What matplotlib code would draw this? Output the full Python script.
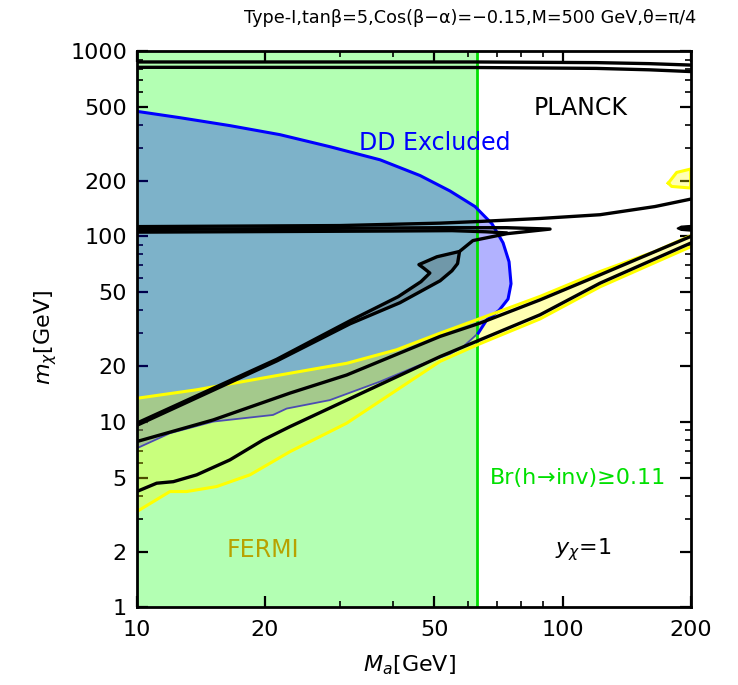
import numpy as np
import matplotlib
matplotlib.use("Agg")
import matplotlib.pyplot as plt
from matplotlib.offsetbox import TextArea, HPacker, AnnotationBbox

plt.rcParams['font.family'] = ['DejaVu Sans']
plt.rcParams['mathtext.fontset'] = 'custom'
plt.rcParams['mathtext.rm'] = 'DejaVu Sans'
plt.rcParams['mathtext.it'] = 'DejaVu Sans:italic'

# --- data (M_a [GeV], m_chi [GeV]) ---
higgs_cut = 63.0

# direct detection excluded region
dd_upper_x = [10, 12.64, 16.56, 21.7, 28.4, 37.3, 46.3, 54.4, 62.3, 68.3, 72.5, 74.9, 75.7,
              74.5, 71.0, 66.4, 63.4]
dd_upper_y = [473, 437, 396, 354, 305, 259, 213, 176, 145, 117, 92.5, 73, 55.6,
              46, 40, 35.5, 30.1]
dd_lower_x = [63.4, 58.5, 54.5, 46.3, 37.3, 28.4, 22.5, 20.9, 15.13, 11.97, 10]
dd_lower_y = [30.1, 25.5, 23.3, 20.3, 16.5, 13.1, 11.8, 10.9, 10.04, 8.69, 7.2]

# FERMI band
fermi_up_x = [10, 13.83, 22.91, 31.13, 40.8, 51.58, 63.43, 88.55, 122.5, 164.9, 200]
fermi_up_y = [13.4, 14.9, 18.3, 20.7, 24.5, 30.1, 35.8, 47.5, 64.7, 83.0, 101]
fermi_lo_x = [10, 11.97, 13.1, 15.41, 18.45, 22.91, 31.13, 51.58, 64.02, 88.55, 122.5, 200]
fermi_lo_y = [3.28, 4.21, 4.21, 4.48, 5.18, 6.91, 9.84, 21.2, 26.4, 35.9, 53.5, 88.0]
fermi_patch_x = [177.2, 185.4, 200, 200, 180.4]
fermi_patch_y = [194, 221.5, 231, 182.5, 186.1]

# PLANCK relic density contours
planck_top1_x = [10, 63, 120, 160, 200]
planck_top1_y = [873, 873, 866, 855, 840]
planck_top2_x = [10, 63, 120, 160, 200]
planck_top2_y = [817, 815, 806, 792, 775]

band_top_x = [10, 30, 51.6, 64, 88.5, 122.5, 164.9, 200]
band_top_y = [113, 114.5, 118, 120.5, 125, 131, 145, 159]
band_mid_x = [10, 40, 55, 66, 74]
band_mid_y = [105.5, 107, 107.5, 106, 104.5]

hook_a_x = [10, 21.32, 31.7, 41.1, 46.5, 48.8, 47.2, 46.0, 50.7, 57.3, 61.6, 74.0, 93.5,
            74.0, 51.6, 10]
hook_a_y = [9.84, 21.75, 35.1, 47.3, 57.0, 63.5, 67.5, 70.5, 77.7, 83.0, 95.0, 103.5, 109.6,
            111.5, 111.5, 109.0]
hook_b_x = [10, 21.32, 31.7, 41.5, 51.6, 55.0, 56.7, 57.3]
hook_b_y = [9.57, 21.3, 33.8, 43.9, 57.7, 65.3, 71.4, 83.0]

line1_x = [10, 15.13, 22.91, 31.13, 51.58, 64.02, 88.55, 122.5, 200]
line1_y = [7.83, 10.25, 14.3, 17.9, 28.9, 34.1, 45.5, 62.1, 100]
line2_x = [10, 11.14, 12.19, 13.83, 16.56, 19.83, 22.91, 31.13, 51.58, 64.02, 88.55, 122.5, 200]
line2_y = [4.21, 4.67, 4.76, 5.18, 6.24, 8.0, 9.43, 13.1, 22.5, 27.7, 37.8, 56.0, 92.1]

blob_x = [185.8, 190, 200, 200, 190]
blob_y = [110.5, 113.5, 114.5, 107, 108]

fig = plt.figure(figsize=(7.38, 6.85), dpi=100)
ax = fig.add_axes([0.1852, 0.1134, 0.7507, 0.8121])
ax.set_xscale('log')
ax.set_yscale('log')
ax.set_xlim(10, 200)
ax.set_ylim(1, 1000)

# Br(h->inv) region
ax.axvspan(10, higgs_cut, color='#b3ffb3', lw=0, zorder=1)

# DD region
dd_x = dd_upper_x + dd_lower_x[1:]
dd_y = dd_upper_y + dd_lower_y[1:]
ax.fill(dd_x, dd_y, color=(0, 0, 1), alpha=0.3, lw=0, zorder=2)

# FERMI region
ax.fill(fermi_up_x + fermi_lo_x[::-1], fermi_up_y + fermi_lo_y[::-1],
        color=(1, 1, 0), alpha=0.3, lw=0, zorder=3)
ax.fill(fermi_patch_x, fermi_patch_y, color=(1, 1, 0), alpha=0.3, lw=0, zorder=3)

# hook region of planck
ax.fill(hook_a_x[:10] + hook_b_x[::-1], hook_a_y[:10] + hook_b_y[::-1],
        color='0.3', alpha=0.25, lw=0, zorder=3)

ax.axvline(higgs_cut, color='#00e000', lw=2, zorder=4)
ax.plot(dd_upper_x, dd_upper_y, color='#0000ff', lw=2.2, zorder=4)
ax.plot(dd_lower_x, dd_lower_y, color='#0000ff', lw=1.3, zorder=2.5)

ax.plot(fermi_up_x, fermi_up_y, color='#ffff00', lw=2.2, zorder=5)
ax.plot(fermi_lo_x, fermi_lo_y, color='#ffff00', lw=2.2, zorder=5)
ax.plot(fermi_patch_x + fermi_patch_x[:1], fermi_patch_y + fermi_patch_y[:1],
        color='#ffff00', lw=2.2, zorder=5)

for xs, ys in [(planck_top1_x, planck_top1_y), (planck_top2_x, planck_top2_y),
               (band_top_x, band_top_y), (band_mid_x, band_mid_y),
               (hook_a_x, hook_a_y), (hook_b_x, hook_b_y),
               (line1_x, line1_y), (line2_x, line2_y)]:
    ax.plot(xs, ys, color='black', lw=2.4, zorder=6, solid_capstyle='round')
ax.fill(blob_x, blob_y, color='black', lw=1, zorder=6)

# texts
ax.text(110, 495, 'PLANCK', fontsize=17, ha='center', va='center', color='black', zorder=7)
ax.text(50.2, 320, 'DD Excluded', fontsize=17, ha='center', va='center', color='#0000ff', zorder=7)
ax.text(19.8, 2.04, 'FERMI', fontsize=17, ha='center', va='center', color='#b8a200', zorder=7)
ax.text(111.7, 2.04, r'$y_{\chi}$=1', fontsize=16, ha='center', va='center', color='black', zorder=7)

gprops = dict(fontsize=16, color='#00e000')
br = HPacker(children=[TextArea('Br(h', textprops=gprops),
                       TextArea('→', textprops=gprops),
                       TextArea('inv)≥0.11', textprops=gprops)],
             pad=0, sep=0, align='baseline')
ax.add_artist(AnnotationBbox(br, (108.7, 5.0), xycoords='data', frameon=False,
                             box_alignment=(0.5, 0.5), zorder=7))

ax.set_xticks([10, 20, 50, 100, 200])
ax.set_xticklabels(['10', '20', '50', '100', '200'])
ax.set_yticks([1, 2, 5, 10, 20, 50, 100, 200, 500, 1000])
ax.set_yticklabels(['1', '2', '5', '10', '20', '50', '100', '200', '500', '1000'])
ax.tick_params(which='both', direction='in', top=True, right=True, labelsize=16)
ax.tick_params(axis='x', pad=9)
ax.tick_params(axis='y', pad=7)
ax.tick_params(which='major', length=8, width=1.6)
ax.tick_params(which='minor', length=4, width=1.2)
for s in ax.spines.values():
    s.set_linewidth(2)
    s.set_zorder(10)

ax.set_xlabel(r'$M_a$[GeV]', fontsize=16)
ax.set_ylabel(r'$m_{\chi}$[GeV]', fontsize=16)
ax.xaxis.set_label_coords(0.493, -0.082)
ax.yaxis.set_label_coords(-0.14, 0.485)
fig.text(0.637, 0.974, 'Type-I,tanβ=5,Cos(β−α)=−0.15,M=500 GeV,θ=π/4',
         fontsize=12.7, ha='center', va='center')

fig.savefig('out.png', dpi=100)
